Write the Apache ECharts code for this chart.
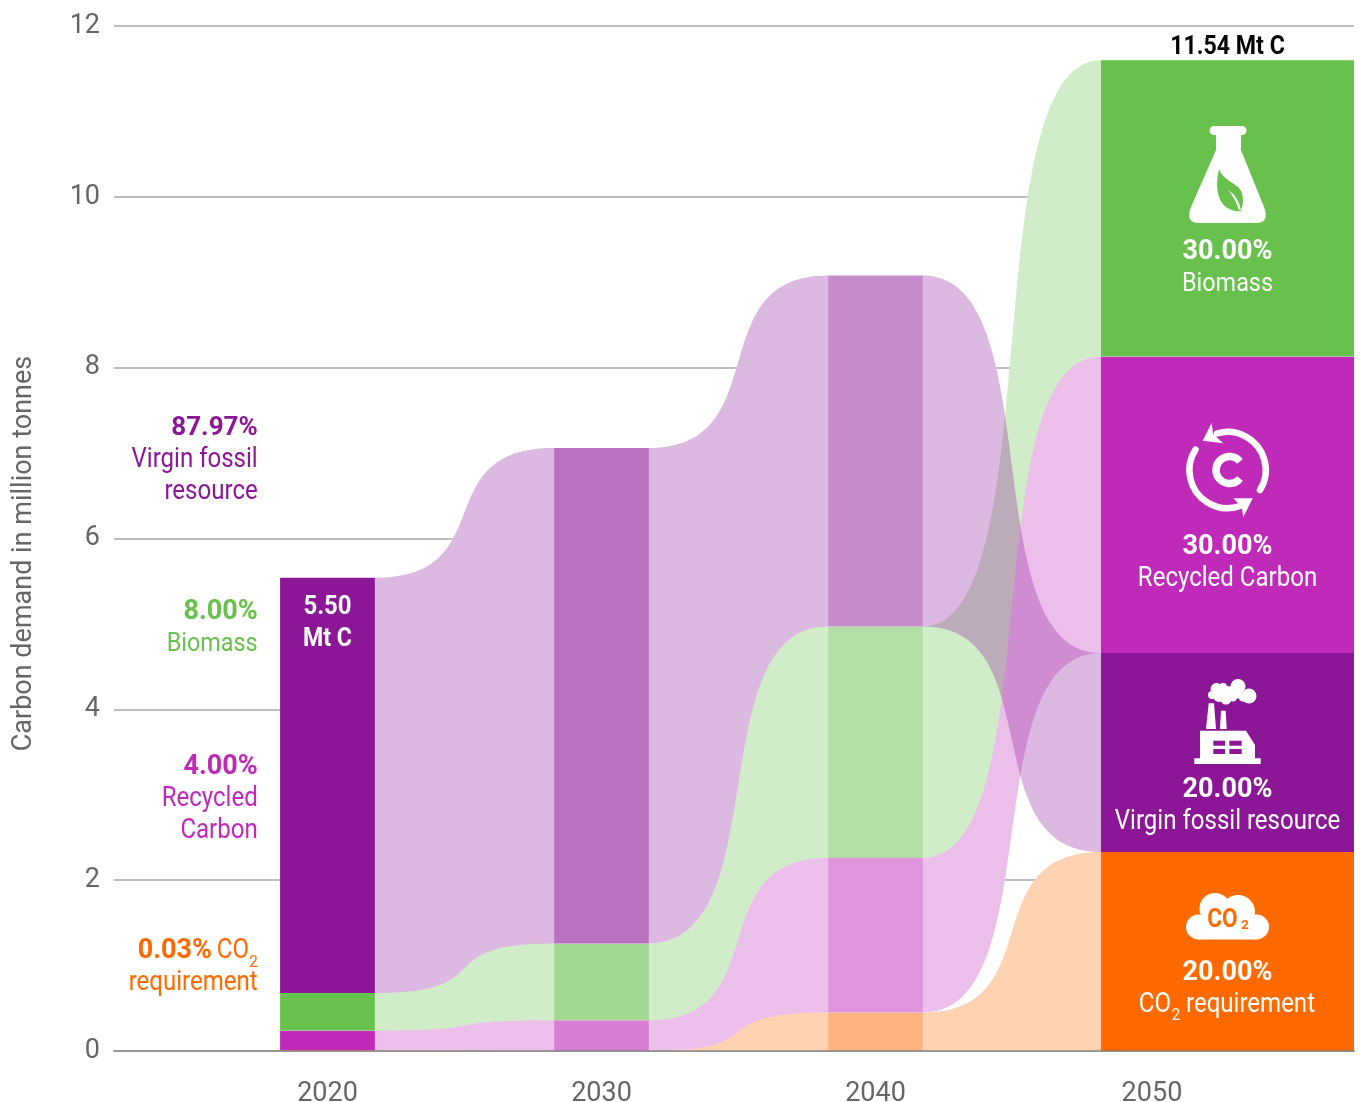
<!DOCTYPE html>
<html>
<head>
<meta charset="utf-8">
<title>Carbon demand</title>
<script src="https://cdn.jsdelivr.net/npm/echarts@6/dist/echarts.min.js"></script>
<style>
  html, body { margin: 0; padding: 0; background: #fff; }
  #main { width: 1361px; height: 1102px; }
</style>
</head>
<body>
<div id="main"></div>
<script>
// chart values, million tonnes, one entry per year
const years = [2020, 2030, 2040, 2050];
const yTicks = [0, 2, 4, 6, 8, 10, 12];
const co2 = [0.01, 0, 0.45, 2.33];
const recycled = [0.23, 0.36, 1.81, 3.47];
const biomass = [0.44, 0.9, 2.71, 3.47];
const virgin = [4.86, 5.8, 4.11, 2.33];

// stacking order differs in the last year
const stackOrder = ['co2', 'recycled', 'biomass', 'virgin'];
const stackOrderLast = ['co2', 'virgin', 'recycled', 'biomass'];

const values = { co2, recycled, biomass, virgin };
const colors = { co2: '#FF6A00', recycled: '#BF2AB8', biomass: '#68C04D', virgin: '#8B1797' };
const barOpacity = [1, 0.61, 0.5, 1];
const flowOpacity = 0.3;
const barHalf = 1.73; // years
const lastBarHalf = 1.77;
const curve = 0.72;   // how far the flow control points reach
const xMin = 2012.208;
const xMax = 2057.464;
const font = 'Roboto';

// bottom and top of each layer per year
function bands(i) {
  const order = i === years.length - 1 ? stackOrderLast : stackOrder;
  const out = {};
  let y = 0;
  order.forEach(k => {
    out[k] = [y, y + values[k][i]];
    y += values[k][i];
  });
  return out;
}

function barEdges(i) {
  // the last bar runs on to the right end of the plot
  if (i === years.length - 1) return [years[i] - lastBarHalf, xMax];
  return [years[i] - barHalf, years[i] + barHalf];
}

// [from year index, layer]
const flowData = [];
for (let i = 0; i < years.length - 1; i++) {
  stackOrder.forEach(k => flowData.push([i, k]));
}
const barData = [];
years.forEach((yr, i) => {
  stackOrder.forEach(k => barData.push([i, k]));
});

function flowPath(api, i, k) {
  const a = bands(i)[k];
  const b = bands(i + 1)[k];
  const x0 = barEdges(i)[1];
  const x1 = barEdges(i + 1)[0];
  const c0 = x0 + (x1 - x0) * curve;
  const c1 = x1 - (x1 - x0) * curve;
  const p = (x, y) => api.coord([x, y]).join(' ');
  return 'M' + p(x0, a[1]) +
    ' C' + p(c0, a[1]) + ' ' + p(c1, b[1]) + ' ' + p(x1, b[1]) +
    ' L' + p(x1, b[0]) +
    ' C' + p(c1, b[0]) + ' ' + p(c0, a[0]) + ' ' + p(x0, a[0]) + ' Z';
}

function barRect(api, i, k) {
  const band = bands(i)[k];
  const e = barEdges(i);
  const lt = api.coord([e[0], band[1]]);
  const rb = api.coord([e[1], band[0]]);
  return { x: lt[0], y: lt[1], width: rb[0] - lt[0], height: rb[1] - lt[1] };
}

// white backing so the grid lines stop behind the flows
function renderFlowBack(params, api) {
  const d = flowData[params.dataIndex];
  return { type: 'path', shape: { pathData: flowPath(api, d[0], d[1]) }, style: { fill: '#fff' } };
}
function renderFlow(params, api) {
  const d = flowData[params.dataIndex];
  return {
    type: 'path',
    shape: { pathData: flowPath(api, d[0], d[1]) },
    style: { fill: colors[d[1]], opacity: flowOpacity }
  };
}
function renderBar(params, api) {
  const d = barData[params.dataIndex];
  return {
    type: 'group',
    children: [
      { type: 'rect', shape: barRect(api, d[0], d[1]), style: { fill: '#fff' } },
      { type: 'rect', shape: barRect(api, d[0], d[1]), style: { fill: colors[d[1]], opacity: barOpacity[d[0]] } }
    ]
  };
}

// the four pictograms in the 2050 column
function whitePath(d) {
  return { type: 'path', shape: { pathData: d }, style: { fill: '#fff' } };
}
function ringPath(d, w, cap) {
  return { type: 'path', shape: { pathData: d }, style: { fill: 'none', stroke: '#fff', lineWidth: w, lineCap: cap } };
}
function puff(x, y, r) {
  return { type: 'circle', shape: { cx: x, cy: y, r: r }, style: { fill: '#fff' } };
}
function box(x, y, w, h, fill) {
  return { type: 'rect', shape: { x: x, y: y, width: w, height: h }, style: { fill: fill } };
}
function renderIcons() {
  return {
    type: 'group',
    children: [
      // flask
      whitePath('M1214 126 H1242 a4.5 4.5 0 0 1 0 9 H1241 V150 L1264 207 Q1270 223 1256 223 H1199 Q1185 223 1191 207 L1216 150 V135 H1214 a4.5 4.5 0 0 1 0-9 Z'),
      { type: 'path', shape: { pathData: 'M1219 169 C1222 178 1232 182 1238 187 C1244 192 1244 203 1241 211 C1232 212 1223 208 1219 197 C1216 187 1217 178 1219 169 Z' }, style: { fill: colors.biomass } },
      whitePath('M1228 190 Q1238 196 1241 210 L1239 210 Q1235 198 1228 190 Z'),
      // recycling arrows
      ringPath('M1217 433.5 A38 38 0 0 1 1260 490', 6.5, 'round'),
      ringPath('M1195.5 449.5 A38 38 0 0 0 1240 506', 6.5, 'round'),
      whitePath('M1211.7 422.7 L1202.7 440.7 L1223.3 443.3 L1213 434 Z'),
      whitePath('M1233.3 498.3 L1252.7 498.3 L1243.3 517.3 L1241.7 506.7 Z'),
      ringPath('M1240 461.5 A13.5 13.5 0 1 0 1240 478.5', 7.5, 'butt'),
      // factory
      box(1194.3, 758.3, 66.4, 5.7, '#fff'),
      whitePath('M1200 730.7 H1246 L1255 745 V759 H1200 Z'),
      whitePath('M1206 729 L1208.7 703.3 H1214 L1216 729 Z'),
      whitePath('M1220 729 L1221 710.7 H1225.7 L1226.7 729 Z'),
      box(1213.3, 740.7, 11.7, 5, colors.virgin),
      box(1229.3, 740.7, 12.4, 5, colors.virgin),
      box(1213.3, 749, 11.7, 5, colors.virgin),
      box(1229.3, 749, 12.4, 5, colors.virgin),
      puff(1216.5, 689, 6), puff(1223, 687, 4), puff(1238, 686.5, 7.5), puff(1249, 696, 7.5),
      puff(1226, 699, 5.5), puff(1212, 695, 4), puff(1219, 696, 6), puff(1228, 692, 6),
      puff(1236, 694, 5), puff(1243, 697, 4.5), puff(1233, 698, 3.5),
      // cloud
      puff(1198.5, 927, 12.5), puff(1215, 908.5, 15.5), puff(1238, 912, 17), puff(1256.5, 927, 12.5),
      box(1198, 920, 58, 19.5, '#fff'),
      { type: 'text', x: 1222.5, y: 920, scaleX: 0.87, style: { text: 'CO', fill: colors.co2, font: 'bold 26px ' + font, textAlign: 'center', textVerticalAlign: 'middle' } },
      { type: 'text', x: 1245, y: 926, style: { text: '2', fill: colors.co2, font: 'bold 13px ' + font, textAlign: 'center', textVerticalAlign: 'middle' } }
    ]
  };
}

// annotation helper: anchor is x, y and the text is squeezed around it
function label(text, x, y, color, size, bold, align, squeeze) {
  return {
    type: 'text',
    z: 100,
    x: x,
    y: y,
    scaleX: squeeze || (bold ? 1 : 0.89),
    style: {
      text: text,
      fill: color,
      fontFamily: font,
      fontSize: size,
      fontWeight: bold ? 'bold' : 'normal',
      textAlign: align || 'right',
      textVerticalAlign: 'middle'
    }
  };
}

const rightEdge = 257.7;
const midLast = 1227.5;
const midFirst = 327.5;

const annotations = [
  label('87.97%', rightEdge, 428, colors.virgin, 26, true),
  label('Virgin fossil', rightEdge, 460, colors.virgin, 27),
  label('resource', rightEdge, 492, colors.virgin, 27),
  label('8.00%', rightEdge, 612, colors.biomass, 27, true),
  label('Biomass', rightEdge, 644, colors.biomass, 26, false, 'right', 0.9),
  label('4.00%', rightEdge, 767, colors.recycled, 27, true),
  label('Recycled', rightEdge, 799, colors.recycled, 27),
  label('Carbon', rightEdge, 831, colors.recycled, 27),
  label('0.03%', 212, 951, colors.co2, 27, true),
  label('CO', 249, 951, colors.co2, 27),
  label('2', rightEdge, 963, colors.co2, 17),
  label('requirement', rightEdge, 983, colors.co2, 27),
  label('5.50', midFirst, 607, '#fff', 26, true, 'center', 0.92),
  label('Mt C', midFirst, 639, '#fff', 26, true, 'center', 0.89),
  label('11.54 Mt C', midLast, 47, '#000', 26, true, 'center', 0.89),
  label('30.00%', midLast, 252, '#fff', 27, true, 'center'),
  label('Biomass', midLast, 284, '#fff', 26, false, 'center', 0.9),
  label('30.00%', midLast, 547, '#fff', 27, true, 'center'),
  label('Recycled Carbon', midLast, 579, '#fff', 27, false, 'center'),
  label('20.00%', midLast, 790, '#fff', 27, true, 'center'),
  label('Virgin fossil resource', midLast, 822, '#fff', 27, false, 'center'),
  label('20.00%', midLast, 973, '#fff', 27, true, 'center'),
  label('CO', 1171, 1005, '#fff', 27),
  label('2', 1176, 1016, '#fff', 17, false, 'center'),
  label('requirement', 1315, 1005, '#fff', 27),
  {
    type: 'text',
    z: 100,
    x: 24,
    y: 553.5,
    rotation: Math.PI / 2,
    style: {
      text: 'Carbon demand in million tonnes',
      fill: '#666',
      fontFamily: font,
      fontSize: 27,
      textAlign: 'center',
      textVerticalAlign: 'middle'
    }
  }
];

const chart = echarts.init(document.getElementById('main'), null, { renderer: 'canvas' });
chart.setOption({
  animation: false,
  backgroundColor: '#fff',
  grid: { left: 114, right: 7, top: 26, bottom: 51, outerBoundsMode: 'none' },
  xAxis: {
    type: 'value',
    min: xMin,
    max: xMax,
    z: 5,
    splitLine: { show: false },
    axisTick: { show: false },
    axisLine: { show: true, onZero: false, lineStyle: { color: 'rgba(120,120,120,0.6)', width: 2 } },
    axisLabel: {
      // the 2050 label sits a touch right of the regular spacing
      customValues: years.map(y => (y === 2050 ? 2050.09 : y)),
      formatter: v => String(Math.floor(v)),
      color: '#666',
      fontFamily: font,
      fontSize: 27,
      margin: 30
    }
  },
  yAxis: {
    type: 'value',
    min: yTicks[0],
    max: yTicks[yTicks.length - 1],
    interval: 2,
    z: 0,
    axisLine: { show: false },
    axisTick: { show: false },
    splitLine: { lineStyle: { color: '#aaa', width: 1.5 } },
    axisLabel: { color: '#666', fontFamily: font, fontSize: 27, margin: 14, padding: [3, 0, 0, 0] }
  },
  series: [
    { type: 'custom', z: 1, silent: true, renderItem: renderFlowBack, data: flowData, clip: false },
    { type: 'custom', z: 2, silent: true, renderItem: renderFlow, data: flowData, clip: false },
    { type: 'custom', z: 3, silent: true, renderItem: renderBar, data: barData, clip: false },
    { type: 'custom', z: 4, silent: true, renderItem: renderIcons, data: [0], clip: false }
  ],
  graphic: { elements: annotations }
});
</script>
</body>
</html>
